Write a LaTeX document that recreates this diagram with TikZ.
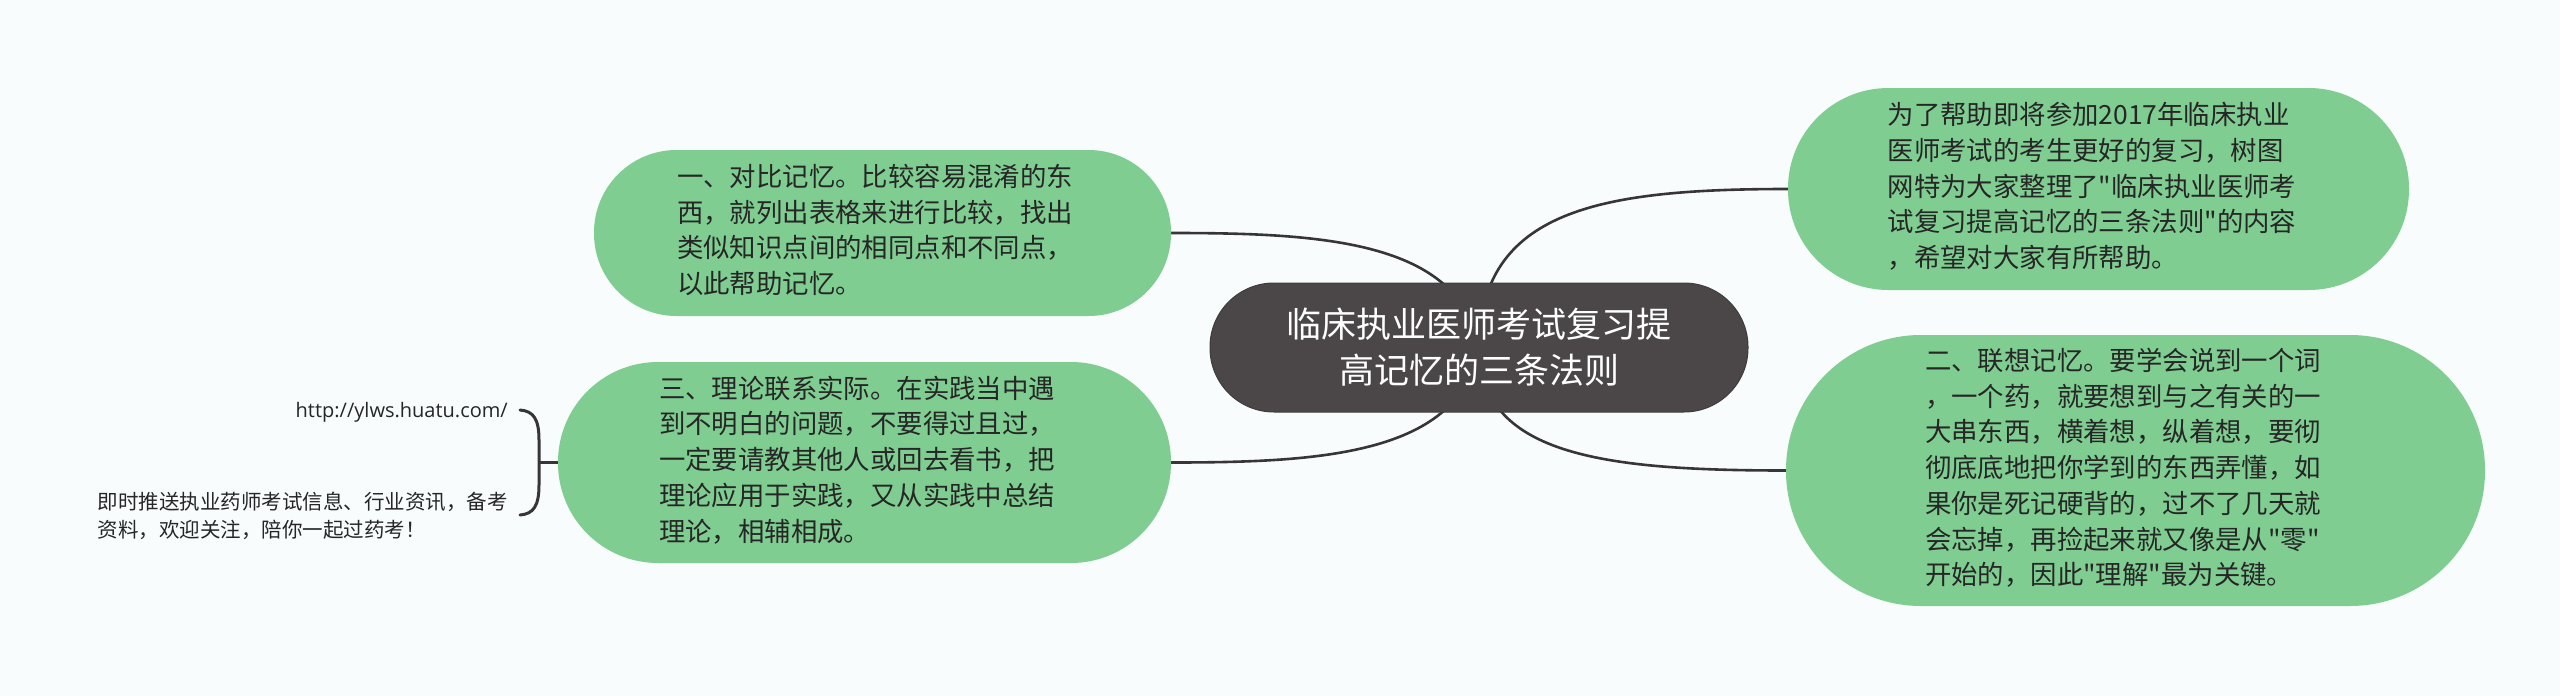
\documentclass[tikz,border=0pt]{standalone}
\usepackage{fontspec}
\setmainfont{Noto Sans CJK SC}
\newfontfamily\plainfont{Noto Sans CJK SC}
\newfontfamily\urlfont{Open Sans}
\usetikzlibrary{backgrounds}
\definecolor{bg}{HTML}{F8FCFC}
\definecolor{leaf}{HTML}{7FCD91}
\definecolor{hub}{HTML}{4B4647}
\definecolor{ink}{HTML}{262626}
\definecolor{wire}{HTML}{383536}
\newcommand{\dq}{{\plainfont\symbol{34}}}
\begin{document}
\begin{tikzpicture}[x=1pt,y=-1pt,
  leafbox/.style={fill=leaf, inner sep=0pt, text=ink, font=\fontsize{26.4}{35.7}\selectfont},
  hubbox/.style={fill=hub, draw=hub!85!black, line width=1pt, inner sep=0pt, text=white,
    align=center, font=\fontsize{35}{46}\selectfont,
    minimum width=538pt, minimum height=129pt, rounded corners=64pt},
  wire/.style={draw=wire, line width=2.6pt},
  note/.style={inner sep=0pt, text=ink}]
\useasboundingbox (0,0) rectangle (2560,696);
\begin{pgfonlayer}{background}
\fill[bg] (0,0) rectangle (2560,696);
\end{pgfonlayer}

\node[hubbox] (c) at (1479,347.5) {临床执业医师考试复习提\\高记忆的三条法则};

\node[leafbox, minimum width=577pt, minimum height=166pt, rounded corners=82.5pt] (n1) at (882.5,233)
 {\begin{tabular}{@{}l@{}}一、对比记忆。比较容易混淆的东\\西，就列出表格来进行比较，找出\\类似知识点间的相同点和不同点，\\以此帮助记忆。\end{tabular}\hspace*{15pt}};

\node[leafbox, minimum width=613pt, minimum height=201pt, rounded corners=100pt] (n3) at (864.5,462.5)
 {\begin{tabular}{@{}l@{}}三、理论联系实际。在实践当中遇\\到不明白的问题，不要得过且过，\\一定要请教其他人或回去看书，把\\理论应用于实践，又从实践中总结\\理论，相辅相成。\end{tabular}\hspace*{15pt}};

\node[leafbox, minimum width=621pt, minimum height=202pt, rounded corners=100.5pt] (tr) at (2098.5,189)
 {\begin{tabular}{@{}l@{}}为了帮助即将参加2017年临床执业\\医师考试的考生更好的复习，树图\\网特为大家整理了\dq 临床执业医师考\\试复习提高记忆的三条法则\dq 的内容\\，希望对大家有所帮助。\end{tabular}\hspace*{13pt}};

\node[leafbox, minimum width=699pt, minimum height=271pt, rounded corners=135pt] (br) at (2135.5,470.5)
 {\begin{tabular}{@{}l@{}}二、联想记忆。要学会说到一个词\\，一个药，就要想到与之有关的一\\大串东西，横着想，纵着想，要彻\\彻底底地把你学到的东西弄懂，如\\果你是死记硬背的，过不了几天就\\会忘掉，再捡起来就又像是从\dq 零\dq\\开始的，因此\dq 理解\dq 最为关键。\end{tabular}\hspace*{25pt}};

\node[note, anchor=east, font=\urlfont\fontsize{20}{28}\selectfont] (url) at (508,412) {http://ylws.huatu.com/};
\node[note, anchor=east, align=left, font=\fontsize{20.5}{28}\selectfont] (ad) at (508,516)
 {即时推送执业药师考试信息、行业资讯，备考\\资料，欢迎关注，陪你一起过药考！};

\coordinate (bt) at (520,410);
\coordinate (bb) at (520,515);
\coordinate (bm) at (539,462.5);

\begin{pgfonlayer}{background}
\draw[wire] (n1.east) .. controls (1320,233) and (1460,240) .. (c.center);
\draw[wire] (n3.east) .. controls (1320,462.5) and (1460,455) .. (c.center);
\draw[wire] (tr.west) .. controls (1600,189) and (1480,210) .. (c.center);
\draw[wire] (br.west) .. controls (1600,470.5) and (1480,454) .. (c.center);
\draw[wire, line width=3pt, line cap=round] (bt) .. controls (534,411) and (539,420) .. (539,440)
  -- (539,485) .. controls (539,505) and (534,514) .. (bb);
\draw[wire] (bm) -- (n3.west);
\end{pgfonlayer}
\end{tikzpicture}
\end{document}
